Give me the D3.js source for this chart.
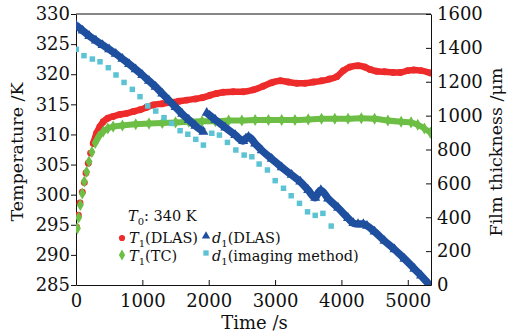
<!DOCTYPE html>
<html>
<head>
<meta charset="utf-8">
<script src="https://cdn.jsdelivr.net/npm/d3@7"></script>
<style>
  body { margin: 0; background: #fff; }
  .axis path, .axis line { stroke: #111; stroke-width: 1; }
</style>
</head>
<body>
<svg id="chart" width="519" height="335"></svg>
<script>
// temperature series [time s, K]
var t1Dlas = [[10,294.6],[35,296.6],[60,298.6],[95,300.4],[125,302.0],[150,303.6],[185,305.2],[220,306.9],
  [260,308.5],[310,310.2],[360,311.3],[410,312.1],[480,312.7],[560,313.0],[660,313.3],[765,313.5],
  [865,313.8],[965,314.1],[1065,314.5],[1165,314.9],[1300,315.1],[1420,315.3],[1550,315.5],[1670,315.7],
  [1800,315.9],[1900,316.1],[2020,316.5],[2120,316.8],[2220,317.0],[2370,317.1],[2520,317.1],[2670,317.4],
  [2820,318.0],[2950,318.6],[3080,318.9],[3200,318.7],[3330,318.5],[3450,318.5],[3580,318.7],[3700,318.9],
  [3820,319.2],[3930,319.6],[4030,320.6],[4130,321.2],[4250,321.4],[4350,321.2],[4430,320.8],[4530,320.5],
  [4650,320.4],[4780,320.3],[4890,320.3],[5000,320.6],[5090,320.7],[5200,320.6],[5340,320.2]];

var t1Tc = [[20,294.4],[40,296.2],[65,298.3],[95,300.2],[125,302.2],[160,303.8],[195,305.5],[240,307.1],
  [290,308.6],[340,309.6],[410,310.5],[480,311.0],[560,311.3],[700,311.5],[900,311.7],[1100,311.8],
  [1300,311.9],[1500,312.0],[1700,312.1],[1900,312.2],[2100,312.2],[2300,312.3],[2500,312.3],[2700,312.4],
  [2900,312.4],[3100,312.4],[3300,312.4],[3500,312.5],[3700,312.6],[3900,312.6],[4100,312.6],[4300,312.7],
  [4500,312.6],[4700,312.3],[4900,312.1],[5050,312.0],[5150,311.6],[5250,311.0],[5340,310.3]];

// film thickness series [time s, um]
var d1DlasA = [[0,1535],[100,1502],[200,1470],[300,1443],[400,1417],[500,1391],[600,1365],[700,1335],
  [800,1305],[900,1273],[1000,1240],[1100,1205],[1200,1170],[1300,1130],[1400,1090],[1500,1050],
  [1600,1010],[1700,975],[1800,940],[1920,905]];
var d1DlasB = [[1970,1017],[2100,975],[2250,930],[2400,885],[2520,850],[2560,865],[2600,875],[2700,835],
  [2800,795],[2950,745],[3100,695],[3250,650],[3380,610],[3500,560],[3605,515],[3650,545],[3690,560],
  [3800,510],[3950,455],[4100,395],[4180,365],[4250,360],[4330,360],[4385,350],[4500,315],[4650,260],
  [4800,210],[4950,155],[5100,95],[5200,55],[5315,5]];

var d1Imaging = [[5,1391],[120,1354],[246,1334],[362,1318],[487,1283],[603,1240],[724,1196],[849,1155],
  [965,1112],[1081,1057],[1202,1027],[1327,988],[1443,954],[1569,911],[1685,890],[1805,860],[1920,826],
  [2047,896],[2161,885],[2282,842],[2409,797],[2534,767],[2650,757],[2760,714],[2885,679],[3002,616],
  [3127,571],[3243,527],[3368,482],[3489,432],[3605,411],[3721,423],[3846,348]];

var xTicks = [0, 1000, 2000, 3000, 4000, 5000];
var tempTicks = [285, 290, 295, 300, 305, 310, 315, 320, 325, 330];
var thickTicks = [0, 200, 400, 600, 800, 1000, 1200, 1400, 1600];

// markers merge into a band after this time
var bandStart = 250;
var serif = "DejaVu Serif";

var svg = d3.select("#chart");
var margin = { top: 14, right: 88, bottom: 50, left: 76 };
var width = 519 - margin.left - margin.right;
var height = 335 - margin.top - margin.bottom;

var g = svg.append("g")
  .attr("transform", "translate(" + margin.left + "," + margin.top + ")");

var x = d3.scaleLinear().domain([0, 5350]).range([0, width]);
var yT = d3.scaleLinear().domain([285, 330]).range([height, 0]);
var yD = d3.scaleLinear().domain([0, 1600]).range([height, 0]);

// axes
var xAxis = g.append("g").attr("class", "axis")
  .attr("transform", "translate(0," + height + ")")
  .call(d3.axisBottom(x).tickValues(xTicks).tickFormat(d3.format("d"))
    .tickSizeInner(-5).tickSizeOuter(0).tickPadding(9));

var yAxisL = g.append("g").attr("class", "axis")
  .call(d3.axisLeft(yT).tickValues(tempTicks).tickFormat(d3.format("d"))
    .tickSizeInner(5).tickSizeOuter(0).tickPadding(1));

var yAxisR = g.append("g").attr("class", "axis")
  .attr("transform", "translate(" + width + ",0)")
  .call(d3.axisRight(yD).tickValues(thickTicks).tickFormat(d3.format("d"))
    .tickSizeInner(-5).tickSizeOuter(0).tickPadding(6));

[xAxis, yAxisL, yAxisR].forEach(function(a) {
  a.attr("font-family", null).attr("font-size", null);
  a.selectAll("text").style("font-family", serif).style("font-size", "18px").attr("fill", "#111");
});

g.append("line")
  .attr("x1", 0).attr("x2", width).attr("y1", 0).attr("y2", 0)
  .attr("stroke", "#111");

g.append("clipPath").attr("id", "plotclip")
  .append("rect").attr("width", width).attr("height", height);

var plot = g.append("g").attr("clip-path", "url(#plotclip)");

function band(data, yScale, color, w) {
  var line = d3.line()
    .x(function(d) { return x(d[0]); })
    .y(function(d) { return yScale(d[1]); })
    .curve(d3.curveMonotoneX);
  plot.append("path")
    .datum(data)
    .attr("d", line)
    .attr("fill", "none")
    .attr("stroke", color)
    .attr("stroke-width", w)
    .attr("stroke-linejoin", "round");
}

function markers(data, yScale, symbol, size, color) {
  plot.append("g").selectAll("path")
    .data(data)
    .enter().append("path")
    .attr("transform", function(d) { return "translate(" + x(d[0]) + "," + yScale(d[1]) + ")"; })
    .attr("d", d3.symbol().type(symbol).size(size))
    .attr("fill", color);
}

var red = "#ee2b2b", green = "#6cbe45", blue = "#1f4f9f", cyan = "#5bc3d3";

band(t1Dlas.filter(function(d) { return d[0] >= bandStart; }), yT, red, 6.5);
markers(t1Dlas, yT, d3.symbolCircle, 38, red);

band(t1Tc.filter(function(d) { return d[0] >= bandStart; }), yT, green, 6);
markers(t1Tc, yT, d3.symbolDiamond, 42, green);

band(d1DlasA, yD, blue, 7.5);
band(d1DlasB, yD, blue, 7.5);
markers(d1DlasA.concat(d1DlasB), yD, d3.symbolTriangle, 44, blue);

markers(d1Imaging, yD, d3.symbolSquare, 30, cyan);

// axis titles
function title(tr, txt, size) {
  svg.append("text")
    .attr("transform", tr)
    .attr("text-anchor", "middle")
    .style("font-family", serif)
    .style("font-size", size + "px")
    .attr("fill", "#111")
    .text(txt);
}
title("translate(" + (margin.left + width / 2 + 1) + ",329)", "Time /s", 18);
title("translate(23,152) rotate(-90)", "Temperature /K", 17.5);
title("translate(502,152) rotate(-90)", "Film thickness /\u03bcm", 17.5);

// legend
function label(xp, yp, sym, sub, rest) {
  var t = svg.append("text").attr("x", xp).attr("y", yp)
    .style("font-family", serif).style("font-size", "14.5px").attr("fill", "#111");
  t.append("tspan").style("font-style", "italic").text(sym);
  t.append("tspan").attr("dy", 4).style("font-size", "10px").text(sub);
  t.append("tspan").attr("dy", -4).text(rest);
}

label(128, 221, "T", "0", ": 340 K");
label(129, 243, "T", "1", "(DLAS)");
label(129, 261, "T", "1", "(TC)");
label(212, 243, "d", "1", "(DLAS)");
label(212, 261, "d", "1", "(imaging method)");

function legendMark(xp, yp, symbol, size, color) {
  svg.append("path")
    .attr("transform", "translate(" + xp + "," + yp + ")")
    .attr("d", d3.symbol().type(symbol).size(size))
    .attr("fill", color);
}
legendMark(122, 238, d3.symbolCircle, 30, red);
legendMark(122, 255, d3.symbolDiamond, 34, green);
legendMark(206, 236, d3.symbolTriangle, 30, blue);
legendMark(206, 253, d3.symbolSquare, 28, cyan);
</script>
</body>
</html>
